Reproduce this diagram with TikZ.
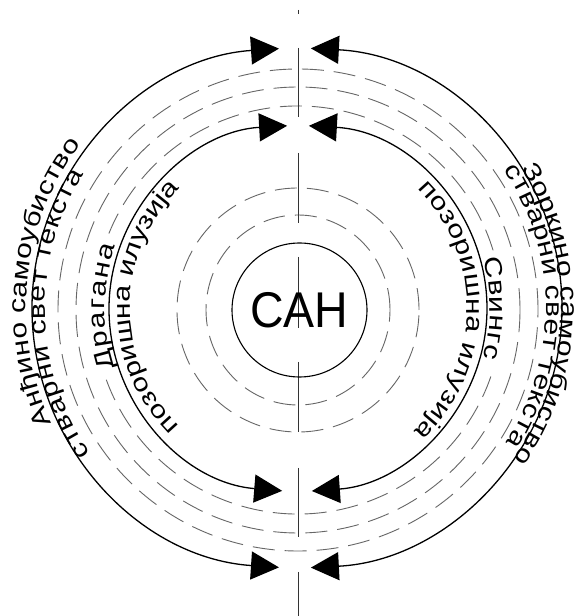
\documentclass[tikz,border=0pt]{standalone}
\usepackage{fontspec}
\setmainfont{Liberation Sans}
\newfontfamily\sidefam[FakeStretch=1.25]{Liberation Sans}
\usetikzlibrary{arrows.meta,decorations.text,shapes.geometric}
\newcommand{\sidefont}{\sidefam\fontsize{24}{24}\selectfont}
\begin{document}
\begin{tikzpicture}[x=1pt,y=1pt,
  solidarc/.style={line width=1.3pt,black},
  dasharc/.style={line width=0.9pt,black!60,dash pattern=on 22pt off 10pt},
  twotips/.style={arrows={Triangle[length=28pt,width=28pt]-Triangle[length=28pt,width=28pt]}},
  axisline/.style={line width=0.9pt,black!80},
  arctext/.style={decorate,decoration={text along path,text={#1},text align={fit to path}}}
]
\useasboundingbox (0,0) rectangle (579,616);
\fill[white] (0,0) rectangle (579,616);

% dashed rings
\begin{scope}[shift={(298,306)}]
  \draw[dasharc] (0,0) ellipse[x radius=240pt,y radius=241pt];
  \draw[dasharc] (0,0) ellipse[x radius=222pt,y radius=223pt];
  \draw[dasharc] (17:204pt) arc[start angle=17,end angle=160,radius=204pt];
  \draw[dasharc] (200:204pt) arc[start angle=200,end angle=343,radius=204pt];
  \draw[dasharc] (0,0) ellipse[x radius=121pt,y radius=122pt];
  \draw[dasharc] (0,0) ellipse[x radius=92pt,y radius=95pt];
\end{scope}

% solid arcs with arrows
\begin{scope}[shift={(297,308)}]
  \draw[solidarc,twotips] (266.1:265pt and 260pt) arc[start angle=266.1,end angle=93.9,x radius=265pt,y radius=260pt];
  \draw[solidarc,twotips] (87:265pt and 260pt) arc[start angle=87,end angle=-87,x radius=265pt,y radius=260pt];
\end{scope}
\begin{scope}[shift={(298,307.5)}]
  \draw[solidarc,twotips] (265.2:189pt and 183pt) arc[start angle=265.2,end angle=93.3,x radius=189pt,y radius=183pt];
  \draw[solidarc,twotips] (86.7:189pt and 183pt) arc[start angle=86.7,end angle=-85.8,x radius=189pt,y radius=183pt];
\end{scope}

% central vertical line
\coordinate (t0) at (298,606); \coordinate (t1) at (298,602);
\coordinate (a0) at (298,568); \coordinate (a1) at (298,499);
\coordinate (b0) at (298,463); \coordinate (b1) at (298,393);
\coordinate (e0) at (298,359); \coordinate (e1) at (298,288);
\coordinate (f0) at (298,254); \coordinate (f1) at (298,184);
\coordinate (c0) at (298,148); \coordinate (c1) at (298,79);
\coordinate (d0) at (298,44);  \coordinate (d1) at (298,0);
\draw[axisline] (t0) -- (t1);
\draw[axisline] (a0) -- (a1);
\draw[axisline] (b0) -- (b1);
\draw[axisline] (e0) -- (e1);
\draw[axisline] (f0) -- (f1);
\draw[axisline] (c0) -- (c1);
\draw[axisline] (d0) -- (d1);

% centre
\node[draw,line width=1.1pt,ellipse,minimum width=135pt,minimum height=134pt,inner sep=0pt] (san) at (299.5,306) {};
\node[inner sep=0pt] (santext) at (299,306) {\fontsize{46.5}{46.5}\selectfont\scalebox{1}[1.08]{САН}};

% texts
\begin{scope}[shift={(298,308)}]
  \path[arctext={|\sidefont|Анђино самоубиство}] (205:272pt) arc[start angle=205,end angle=143,radius=272pt];
  \path[arctext={|\sidefont|стварни свет текста}] (215:253pt) arc[start angle=215,end angle=148,radius=253pt];
  \path[arctext={|\sidefont|Драгана}] (198:193pt) arc[start angle=198,end angle=161,radius=193pt];
  \path[arctext={|\sidefont|позоришна илузија}] (225:168pt) arc[start angle=225,end angle=135,radius=168pt];
  \path[arctext={|\sidefont|Зоркино самоубиство}] (32:263pt) arc[start angle=32,end angle=-35,radius=263pt];
  \path[arctext={|\sidefont|стварни свет текста}] (34:248pt) arc[start angle=34,end angle=-33,radius=248pt];
  \path[arctext={|\sidefont|Свингс}] (15:192pt) arc[start angle=15,end angle=-15,radius=192pt];
  \path[arctext={|\sidefont|позоришна илузија}] (45:169pt) arc[start angle=45,end angle=-47,radius=169pt];
\end{scope}
\end{tikzpicture}
\end{document}
